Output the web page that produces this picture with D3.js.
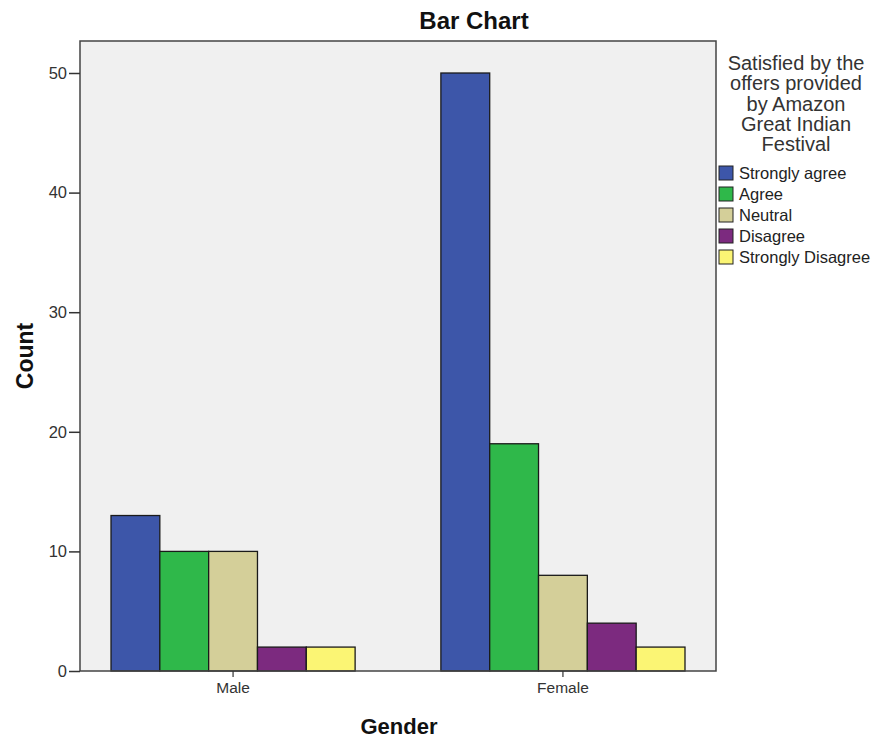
<!DOCTYPE html>
<html><head><meta charset="utf-8">
<script src="https://cdn.jsdelivr.net/npm/d3@7"></script>
<style>body{margin:0;background:#fff;} text{font-family:"Liberation Sans",Arial,sans-serif;}</style>
</head><body>
<svg id="c" width="873" height="741"></svg>
<script>
const genders = ["Male", "Female"];
const responses = ["Strongly agree", "Agree", "Neutral", "Disagree", "Strongly Disagree"];
const maleCounts = [13, 10, 10, 2, 2];
const femaleCounts = [50, 19, 8, 4, 2];
const colors = ["#3d56a9", "#2fb84a", "#d4cf99", "#7c2a7f", "#fbf574"];
const yTicks = [0, 10, 20, 30, 40, 50];
const legendTitle = ["Satisfied by the", "offers provided", "by Amazon", "Great Indian", "Festival"];

const data = genders.map((g, i) => ({gender: g, values: (i === 0 ? maleCounts : femaleCounts)}));

const svg = d3.select("#c");
const L = 80, T = 41, R = 716, B = 671;

svg.append("rect").attr("x", L).attr("y", T).attr("width", R - L).attr("height", B - T).attr("fill", "#f0f0f0");

const x = d3.scaleBand().domain(genders).range([L, R]).paddingInner(0.26).paddingOuter(0.094);
const x1 = d3.scaleBand().domain(responses).range([0, x.bandwidth()]);
const y = d3.scaleLinear().domain([0, (B - T) / ((B - 73) / 50)]).range([B, T]);

const g = svg.append("g");
data.forEach(d => {
  g.selectAll(null).data(d.values).enter().append("rect")
    .attr("x", (v, j) => x(d.gender) + x1(responses[j]))
    .attr("y", v => y(v))
    .attr("width", x1.bandwidth())
    .attr("height", v => y(0) - y(v))
    .attr("fill", (v, j) => colors[j])
    .attr("stroke", "#1a1a1a").attr("stroke-width", 1.3);
});

// frame
svg.append("rect").attr("x", L).attr("y", T).attr("width", R - L).attr("height", B - T)
  .attr("fill", "none").attr("stroke", "#444").attr("stroke-width", 1.5);

const yAxis = svg.append("g").attr("transform", `translate(${L},0)`)
  .call(d3.axisLeft(y).tickValues(yTicks).tickSize(11).tickSizeOuter(0).tickPadding(2));
yAxis.select(".domain").remove();
yAxis.selectAll("line").attr("stroke", "#333").attr("stroke-width", 1.5);
yAxis.selectAll("text").attr("font-size", 16.5).attr("fill", "#333").style("font-family", "Liberation Sans, Arial, sans-serif");

const xAxis = svg.append("g").attr("transform", `translate(0,${B})`)
  .call(d3.axisBottom(x).tickSize(6).tickSizeOuter(0).tickPadding(5));
xAxis.select(".domain").remove();
xAxis.selectAll("line").attr("stroke", "#333").attr("stroke-width", 1.2);
xAxis.selectAll("text").attr("font-size", 15.5).attr("fill", "#333").style("font-family", "Liberation Sans, Arial, sans-serif");

svg.append("text").attr("x", 474).attr("y", 29).attr("text-anchor", "middle")
  .attr("font-size", 24).attr("font-weight", "bold").attr("fill", "#111").text("Bar Chart");
svg.append("text").attr("x", 399).attr("y", 734).attr("text-anchor", "middle")
  .attr("font-size", 22).attr("font-weight", "bold").attr("fill", "#111").text("Gender");
svg.append("text").attr("transform", "translate(33,356) rotate(-90)").attr("text-anchor", "middle")
  .attr("font-size", 23).attr("font-weight", "bold").attr("fill", "#111").text("Count");

const lg = svg.append("g");
legendTitle.forEach((t, i) => {
  lg.append("text").attr("x", 796).attr("y", 70 + i * 20.3).attr("text-anchor", "middle")
    .attr("font-size", 20).attr("fill", "#333").text(t);
});
responses.forEach((r, i) => {
  const yy = 166 + i * 21;
  lg.append("rect").attr("x", 719).attr("y", yy).attr("width", 14).attr("height", 14)
    .attr("fill", colors[i]).attr("stroke", "#222").attr("stroke-width", 1);
  lg.append("text").attr("x", 739).attr("y", yy + 13).attr("font-size", 16.5).attr("fill", "#222").text(r);
});
</script>
</body></html>
